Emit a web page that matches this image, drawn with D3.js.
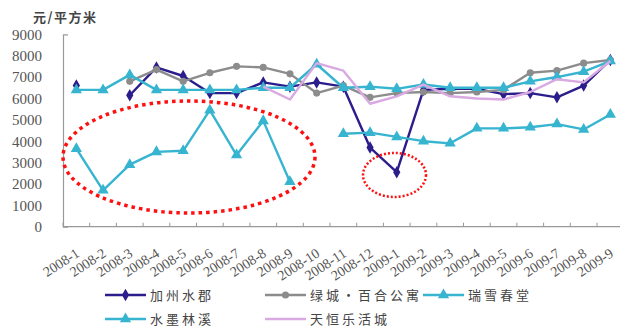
<!DOCTYPE html>
<html>
<head>
<meta charset="utf-8">
<script src="https://cdn.jsdelivr.net/npm/d3@7/dist/d3.min.js"></script>
<style>
  html, body { margin: 0; padding: 0; background: #fff; }
  svg { display: block; }
</style>
</head>
<body>
<svg id="chart" width="620" height="333"></svg>
<script>
// Monthly prices (元/平方米), Jan 2008 – Sep 2009
const months = ["2008-1","2008-2","2008-3","2008-4","2008-5","2008-6","2008-7","2008-8","2008-9","2008-10","2008-11","2008-12",
                "2009-1","2009-2","2009-3","2009-4","2009-5","2009-6","2009-7","2009-8","2009-9"];
const jiazhou  = [6600, null, 6150, 7450, 7050, 6250, 6250, 6750, 6550, 6750, 6550, 3700, 2550, 6400, 6450, 6450, 6200, 6250, 6050, 6600, 7800];
const lvcheng  = [null, null, 6800, 7350, 6800, 7200, 7500, 7450, 7150, 6250, 6600, 6050, 6250, 6300, 6250, 6300, 6400, 7200, 7300, 7650, 7800];
const ruixue   = [6400, 6400, 7100, 6400, 6400, 6400, 6400, 6500, 6500, 7600, 6500, 6550, 6450, 6650, 6500, 6500, 6500, 6800, 7000, 7250, 7750];
const shuimo   = [3650, 1700, 2900, 3500, 3550, 5450, 3350, 4950, 2100, null, 4350, 4400, 4200, 4000, 3900, 4600, 4600, 4650, 4800, 4550, 5250];
const tianheng = [null, null, null, null, null, null, null, 6550, 5950, 7650, 7300, 5750, 6100, 6650, 6100, 6000, 5950, 6300, 6900, 6750, 7750];
const yTicks = [0, 1000, 2000, 3000, 4000, 5000, 6000, 7000, 8000, 9000];

const series = [
  { name: "加州水郡",      values: jiazhou,  color: "#2b1d8c", marker: "diamond" },
  { name: "绿城·百合公寓", values: lvcheng,  color: "#8c8c8c", marker: "circle" },
  { name: "瑞雪春堂",      values: ruixue,   color: "#36b4d0", marker: "triangle" },
  { name: "水墨林溪",      values: shuimo,   color: "#36b4d0", marker: "triangle" },
  { name: "天恒乐活城",    values: tianheng, color: "#d9a9e2", marker: null }
];

const svg = d3.select("#chart");
const plotLeft = 63, plotRight = 623.7, plotTop = 34.3, plotBottom = 226.7;

const x = d3.scaleBand().domain(months).range([plotLeft, plotRight]).paddingInner(0).paddingOuter(0);
const y = d3.scaleLinear().domain([0, 9000]).range([plotBottom, plotTop]);
const cx = m => x(m) + x.bandwidth() / 2;

const serif = "'Liberation Serif', 'Times New Roman', serif";
const cjk = "'Noto Sans CJK SC', sans-serif";

// unit label
svg.append("text")
  .attr("x", 33).attr("y", 22)
  .attr("font-family", cjk).attr("font-size", 13).attr("font-weight", "bold")
  .attr("letter-spacing", 1.5).attr("fill", "#444")
  .text("元/平方米");

// y axis
const yAxis = d3.axisLeft(y).tickValues(yTicks).tickFormat(d3.format("d"))
  .tickSizeInner(0).tickSizeOuter(-5).tickPadding(21);
const gy = svg.append("g").attr("transform", `translate(${plotLeft},0)`).call(yAxis);
gy.attr("font-family", serif);
gy.select(".domain").attr("stroke", "#999").attr("stroke-width", 1.2);
gy.selectAll("text").attr("font-family", serif).attr("font-size", 15).attr("fill", "#555");

// x axis (ticks at category boundaries, pointing inward)
const boundaries = d3.range(months.length + 1).map(i => plotLeft + i * x.bandwidth());
const gx = svg.append("g");
gx.append("line").attr("x1", plotLeft).attr("x2", plotRight).attr("y1", plotBottom).attr("y2", plotBottom)
  .attr("stroke", "#999").attr("stroke-width", 1.2);
gx.selectAll("line.tick").data(boundaries).join("line").attr("class", "tick")
  .attr("x1", d => d).attr("x2", d => d).attr("y1", plotBottom).attr("y2", plotBottom - 4)
  .attr("stroke", "#999").attr("stroke-width", 1);
gx.selectAll("text").data(months).join("text")
  .attr("transform", d => `translate(${cx(d) + 4},${plotBottom + 29}) rotate(-33)`)
  .attr("text-anchor", "end")
  .attr("font-family", serif).attr("font-size", 14).attr("fill", "#555")
  .text(d => d);

// lines
const line = d3.line()
  .defined(d => d.v != null)
  .x(d => cx(d.m)).y(d => y(d.v));

const symbolFor = {
  diamond: d3.symbol().type(d3.symbolDiamond).size(45),
  circle: d3.symbol().type(d3.symbolCircle).size(40),
  triangle: d3.symbol().type(d3.symbolTriangle).size(55)
};

series.forEach(s => {
  const pts = months.map((m, i) => ({ m, v: s.values[i] }));
  const g = svg.append("g");
  g.append("path").datum(pts)
    .attr("d", line).attr("fill", "none")
    .attr("stroke", s.color).attr("stroke-width", 2.4).attr("stroke-linejoin", "round");
  if (s.marker) {
    g.selectAll("path.pt").data(pts.filter(d => d.v != null)).join("path").attr("class", "pt")
      .attr("transform", d => `translate(${cx(d.m)},${y(d.v)})`)
      .attr("d", symbolFor[s.marker]())
      .attr("fill", s.color);
  }
});

// highlighted regions
svg.append("ellipse")
  .attr("cx", 189).attr("cy", 157).attr("rx", 126).attr("ry", 56)
  .attr("fill", "none").attr("stroke", "#ff1010").attr("stroke-width", 3.5)
  .attr("stroke-dasharray", "3.5,4");
svg.append("ellipse")
  .attr("cx", 394.5).attr("cy", 175).attr("rx", 31.5).attr("ry", 22)
  .attr("fill", "none").attr("stroke", "#ff1010").attr("stroke-width", 2.5)
  .attr("stroke-dasharray", "2,2");

// legend
const legendPos = [
  { x: 105, y: 295 }, { x: 265, y: 295 }, { x: 423, y: 295 },
  { x: 105, y: 319 }, { x: 265, y: 319 }
];
series.forEach((s, i) => {
  const p = legendPos[i];
  const g = svg.append("g").attr("transform", `translate(${p.x},${p.y})`);
  g.append("line").attr("x1", 0).attr("x2", 41).attr("y1", 0).attr("y2", 0)
    .attr("stroke", s.color).attr("stroke-width", 2.4);
  if (s.marker) {
    g.append("path").attr("transform", "translate(20.5,0)")
      .attr("d", symbolFor[s.marker]()).attr("fill", s.color);
  }
  g.append("text").attr("x", 45).attr("y", 4.5)
    .attr("font-family", cjk).attr("font-size", 13).attr("letter-spacing", 3)
    .attr("fill", "#444").text(s.name);
});
</script>
</body>
</html>
